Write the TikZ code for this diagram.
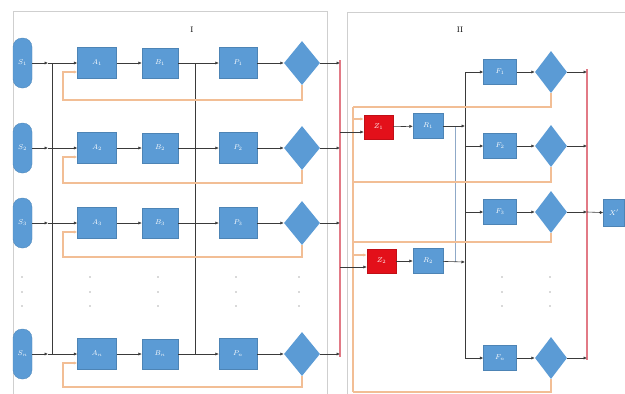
\documentclass[tikz,border=0pt]{standalone}
\usetikzlibrary{shapes.geometric,arrows.meta}
\definecolor{boxblue}{HTML}{5B9BD5}
\definecolor{zred}{HTML}{E3101A}
\definecolor{fbor}{HTML}{F2BE95}
\definecolor{busred}{HTML}{E27A86}
\definecolor{framegr}{HTML}{CFCFCF}
\definecolor{ln}{HTML}{3A3A3A}
\definecolor{vblue}{HTML}{8FA9C8}
\begin{document}
\begin{tikzpicture}[x=1pt,y=-1pt,
  bx/.style={rectangle, fill=boxblue, draw=boxblue!85!black, line width=0.3pt, text=white, font=\fontsize{7}{8}\selectfont, inner sep=0pt},
  pill/.style={bx, rounded corners=9pt, minimum width=19pt, minimum height=50pt},
  abox/.style={bx, minimum width=39pt, minimum height=31pt},
  bbox/.style={bx, minimum width=36pt, minimum height=30pt},
  pbox/.style={bx, minimum width=38pt, minimum height=31pt},
  zbox/.style={bx, fill=zred, draw=zred!85!black, minimum width=29pt, minimum height=24pt},
  rbox/.style={bx, minimum width=30pt, minimum height=25pt},
  fbox/.style={bx, minimum width=33pt, minimum height=25pt},
  xbox/.style={bx, minimum width=21pt, minimum height=27pt},
  dia/.style={diamond, fill=boxblue, draw=none, minimum width=36pt, minimum height=44pt, inner sep=0pt},
  diaB/.style={diamond, fill=boxblue, draw=none, minimum width=32pt, minimum height=42pt, inner sep=0pt},
  conn/.style={draw=ln, line width=0.6pt},
  arr/.style={conn, -{Latex[length=3.5pt,width=3.2pt]}},
  fb/.style={draw=fbor, line width=1.1pt},
  fbarr/.style={fb, -{Latex[length=3.5pt,width=3.2pt]}},
  bus/.style={draw=busred, line width=2.6pt},
  frame/.style={draw=framegr, line width=1pt},
  title/.style={font=\fontsize{8}{9}\selectfont, text=black},
  ell/.style={fill=gray!60, draw=none, circle, inner sep=0pt, minimum size=1.8pt}]
\useasboundingbox (0,0) rectangle (625,394);
% frames
\draw[frame] (13,11) rectangle (327,398);
\draw[frame] (347,12) rectangle (640,398);
\node[title] (t1) at (192,30) {I};
\node[title] (t2) at (460,30) {II};
% buses
\draw[bus] (340,60) -- (340,357);
\draw[bus] (587,69) -- (587,360);
% vertical link lines section I
\draw[conn] (52,63) -- (52,354);
\draw[conn] (195,63) -- (195,354);
% rows of section I
\foreach \i/\y/\lab/\fy in {1/63/1/100, 2/148/2/183, 3/223/3/257, 4/354/n/387}{
  \node[pill] (S\i) at (22.5,\y) {$S_{\lab}$};
  \node[abox] (A\i) at (97,\y) {$A_{\lab}$};
  \node[bbox] (B\i) at (160,\y) {$B_{\lab}$};
  \node[pbox] (P\i) at (238,\y) {$P_{\lab}$};
  \node[dia] (D\i) at (302,\y) {};
  \coordinate (j\i) at (48,\y);
  \coordinate (bus\i) at (340,\y);
  \coordinate (fl\i) at (63,{\y+9});
  \draw[arr] (S\i) -- (j\i);
  \draw[arr] (j\i) -- (A\i);
  \draw[arr] (A\i) -- (B\i);
  \draw[arr] (B\i) -- (P\i);
  \draw[arr] (P\i) -- (D\i);
  \draw[arr] (D\i) -- (bus\i);
  \draw[fbarr] (D\i.south) -- (302,\fy) -- (63,\fy) -- (fl\i) -- (fl\i -| A\i.west);
}
% ellipsis dots section I
\foreach \x in {22,90,158,236,299}{
  \foreach \yy in {277,292,306}{
    \node[ell] at (\x,\yy) {};
  }
}
% section II
\node[zbox] (Z1) at (378.5,127) {$Z_1$};
\node[zbox] (Z2) at (381.5,261) {$Z_2$};
\node[rbox] (R1) at (428,126) {$R_1$};
\node[rbox] (R2) at (428,261) {$R_2$};
\node[xbox] (X) at (614,213) {$X'$};
% orange feedback trunk
\draw[fb] (353,107) -- (353,392);
\coordinate (o1) at (353,119);
\coordinate (o2) at (353,255);
\coordinate (b1) at (340,132);
\coordinate (b2) at (340,267);
\draw[fbarr] (o1) -- (o1 -| Z1.west);
\draw[fbarr] (o2) -- (o2 -| Z2.west);
\draw[arr] (b1) -- (b1 -| Z1.west);
\draw[arr] (b2) -- (b2 -| Z2.west);
\draw[arr] (Z1) -- (R1);
\draw[arr] (Z2) -- (R2);
\coordinate (m1) at (465,126);
\coordinate (m2) at (465,262);
\draw[draw=vblue, line width=0.8pt] (455,126) -- (455,262);
\draw[conn] (465,72) -- (465,358);
\draw[arr] (R1) -- (m1);
\draw[arr] (R2) -- (m2);
\foreach \i/\y/\lab/\fy in {1/72/1/107, 2/146/2/182, 3/212/3/242, 4/358/n/392}{
  \node[fbox] (F\i) at (500,\y) {$F_{\lab}$};
  \node[diaB] (E\i) at (551,\y) {};
  \coordinate (v\i) at (465,\y);
  \coordinate (c\i) at (587,\y);
  \draw[arr] (v\i) -- (F\i);
  \draw[arr] (F\i) -- (E\i);
  \draw[arr] (E\i) -- (c\i);
  \draw[fb] (E\i.south) -- (551,\fy) -- (353,\fy);
}
\draw[arr] (c3) -- (X);
% ellipsis dots section II
\foreach \x in {502,550}{
  \foreach \yy in {277,292,306}{
    \node[ell] at (\x,\yy) {};
  }
}
\end{tikzpicture}
\end{document}
